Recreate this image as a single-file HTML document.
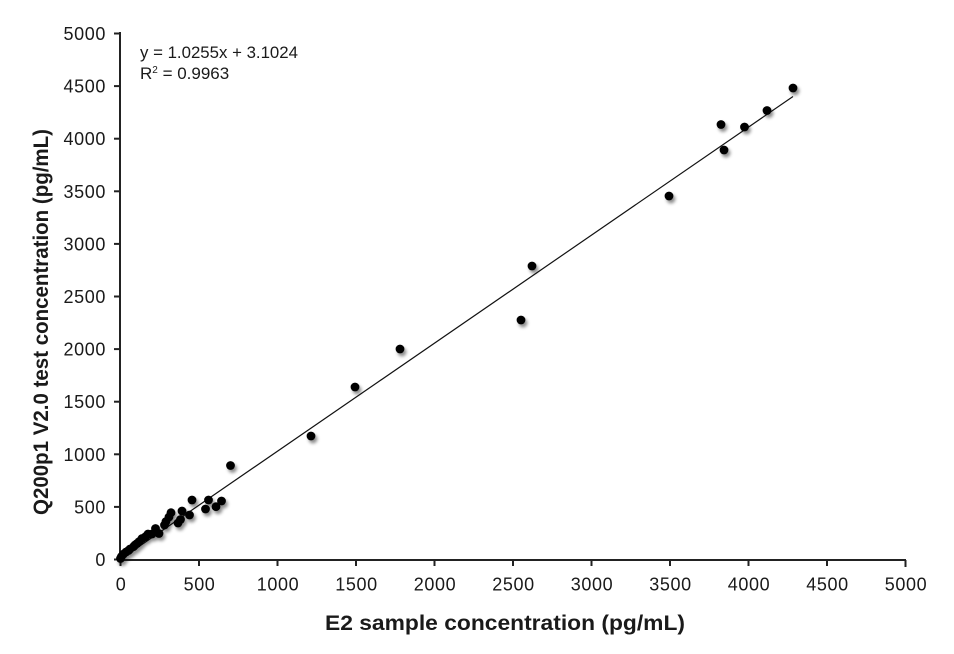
<!DOCTYPE html>
<html><head><meta charset="utf-8"><style>
html,body{margin:0;padding:0;background:#fff;}
svg{display:block;}
text{font-family:"Liberation Sans",sans-serif;fill:#1a1a1a;}
</style></head><body>
<svg width="954" height="654" viewBox="0 0 954 654" xmlns="http://www.w3.org/2000/svg">
<defs>
<filter id="sh" x="-50%" y="-50%" width="200%" height="200%">
<feDropShadow dx="2" dy="3" stdDeviation="1.6" flood-color="#000" flood-opacity="0.45"/>
</filter>
</defs>
<rect width="954" height="654" fill="#fff"/>
<g stroke="#222" stroke-width="2" fill="none">
<line x1="120" y1="32" x2="120" y2="560"/>
<line x1="119" y1="560" x2="906" y2="560"/>
<line x1="114" y1="33.5" x2="120" y2="33.5"/>
<line x1="114" y1="86.1" x2="120" y2="86.1"/>
<line x1="114" y1="138.7" x2="120" y2="138.7"/>
<line x1="114" y1="191.3" x2="120" y2="191.3"/>
<line x1="114" y1="243.9" x2="120" y2="243.9"/>
<line x1="114" y1="296.5" x2="120" y2="296.5"/>
<line x1="114" y1="349.1" x2="120" y2="349.1"/>
<line x1="114" y1="401.7" x2="120" y2="401.7"/>
<line x1="114" y1="454.3" x2="120" y2="454.3"/>
<line x1="114" y1="506.9" x2="120" y2="506.9"/>
<line x1="114" y1="559.5" x2="120" y2="559.5"/>
<line x1="120.5" y1="560" x2="120.5" y2="566"/>
<line x1="199" y1="560" x2="199" y2="566"/>
<line x1="277.5" y1="560" x2="277.5" y2="566"/>
<line x1="356" y1="560" x2="356" y2="566"/>
<line x1="434.5" y1="560" x2="434.5" y2="566"/>
<line x1="513" y1="560" x2="513" y2="566"/>
<line x1="591.5" y1="560" x2="591.5" y2="566"/>
<line x1="670" y1="560" x2="670" y2="566"/>
<line x1="748.5" y1="560" x2="748.5" y2="566"/>
<line x1="827" y1="560" x2="827" y2="566"/>
<line x1="905.5" y1="560" x2="905.5" y2="567"/>
</g>
<g font-size="18" text-anchor="end" letter-spacing="0.6">
<text x="106" y="40">5000</text>
<text x="106" y="92.6">4500</text>
<text x="106" y="145.2">4000</text>
<text x="106" y="197.8">3500</text>
<text x="106" y="250.4">3000</text>
<text x="106" y="303">2500</text>
<text x="106" y="355.6">2000</text>
<text x="106" y="408.2">1500</text>
<text x="106" y="460.8">1000</text>
<text x="106" y="513.4">500</text>
<text x="106" y="566">0</text>
</g>
<g font-size="18" text-anchor="middle" letter-spacing="0.6">
<text x="121" y="590.5">0</text>
<text x="199.5" y="590.5">500</text>
<text x="278" y="590.5">1000</text>
<text x="356.5" y="590.5">1500</text>
<text x="435" y="590.5">2000</text>
<text x="513.5" y="590.5">2500</text>
<text x="592" y="590.5">3000</text>
<text x="670.5" y="590.5">3500</text>
<text x="749" y="590.5">4000</text>
<text x="827.5" y="590.5">4500</text>
<text x="906" y="590.5">5000</text>
</g>
<text x="325" y="630" font-size="21" font-weight="bold" textLength="360" lengthAdjust="spacingAndGlyphs">E2 sample concentration (pg/mL)</text>
<text transform="translate(48,322) rotate(-90)" text-anchor="middle" font-size="21" font-weight="bold" textLength="386" lengthAdjust="spacingAndGlyphs">Q200p1 V2.0 test concentration  (pg/mL)</text>
<text x="140" y="58" font-size="17" textLength="158" lengthAdjust="spacingAndGlyphs">y = 1.0255x + 3.1024</text>
<text x="140" y="79" font-size="17">R<tspan font-size="10" dy="-6">2</tspan><tspan dy="6"> = 0.9963</tspan></text>
<line x1="120.5" y1="559.2" x2="793" y2="96.5" stroke="#111" stroke-width="1.2"/>
<g fill="#000" filter="url(#sh)">
<circle cx="793" cy="88" r="4.4"/>
<circle cx="767" cy="110.5" r="4.4"/>
<circle cx="721" cy="124.5" r="4.4"/>
<circle cx="744.5" cy="127" r="4.4"/>
<circle cx="724" cy="150" r="4.4"/>
<circle cx="669" cy="196" r="4.4"/>
<circle cx="532" cy="266" r="4.4"/>
<circle cx="521" cy="320" r="4.4"/>
<circle cx="400" cy="349" r="4.4"/>
<circle cx="355" cy="387" r="4.4"/>
<circle cx="311" cy="436" r="4.4"/>
<circle cx="230.5" cy="465.5" r="4.4"/>
<circle cx="192" cy="500" r="4.4"/>
<circle cx="208.5" cy="500" r="4.4"/>
<circle cx="221.5" cy="501" r="4.4"/>
<circle cx="205.5" cy="509" r="4.4"/>
<circle cx="216" cy="506.7" r="4.4"/>
<circle cx="182" cy="511" r="4.4"/>
<circle cx="189.5" cy="515" r="4.4"/>
<circle cx="180.5" cy="519.5" r="4.4"/>
<circle cx="171" cy="512.7" r="4.4"/>
<circle cx="169" cy="517" r="4.4"/>
<circle cx="166" cy="521.5" r="4.4"/>
<circle cx="164.5" cy="525" r="4.4"/>
<circle cx="178" cy="523" r="4.4"/>
<circle cx="155.5" cy="528.5" r="4.4"/>
<circle cx="159" cy="533.5" r="4.4"/>
<circle cx="152" cy="534" r="4.4"/>
<circle cx="148" cy="534" r="4.4"/>
<circle cx="145.5" cy="536.7" r="4.4"/>
<circle cx="142" cy="538.5" r="4.4"/>
<circle cx="139" cy="541.7" r="4.4"/>
<circle cx="137" cy="543.5" r="4.4"/>
<circle cx="135" cy="545" r="4.4"/>
<circle cx="133.5" cy="546.7" r="4.4"/>
<circle cx="130" cy="549" r="4.4"/>
<circle cx="128.5" cy="550.5" r="4.4"/>
<circle cx="126" cy="552" r="4.4"/>
<circle cx="123.5" cy="554" r="4.4"/>
<circle cx="121.5" cy="556.5" r="4.4"/>
<circle cx="120.5" cy="558.5" r="4.4"/>
</g>
</svg>
</body></html>
